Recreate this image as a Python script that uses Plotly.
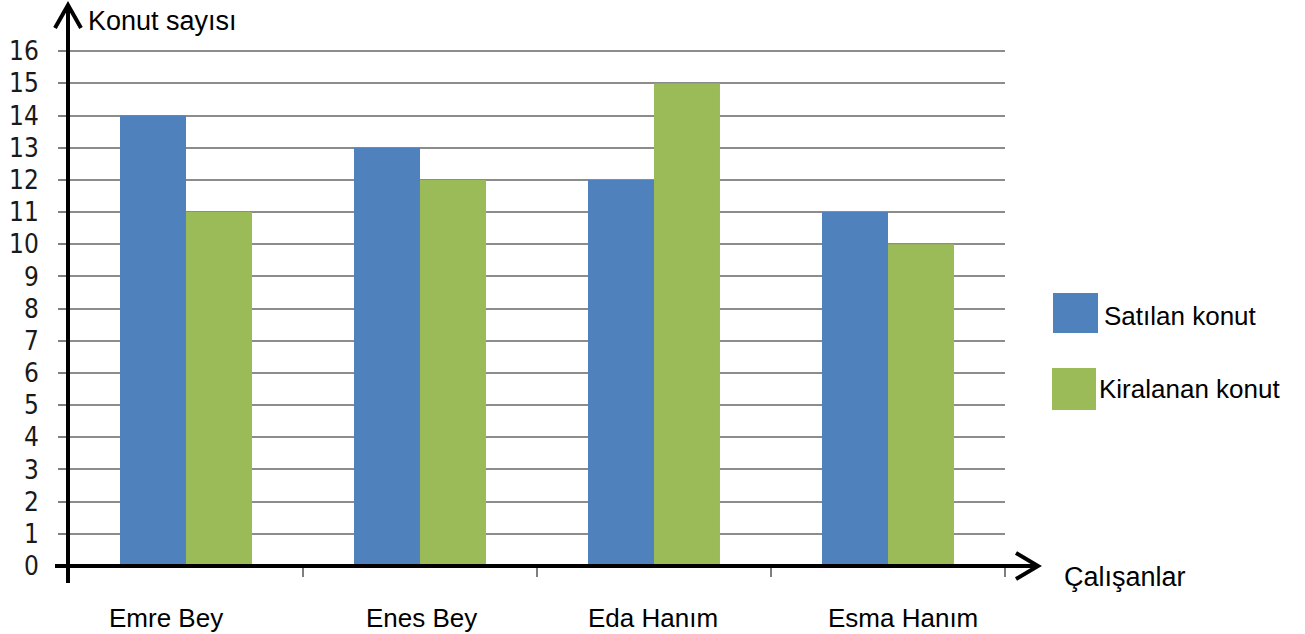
import plotly.graph_objects as go

categories = ["Emre Bey", "Enes Bey", "Eda Hanım", "Esma Hanım"]
satilan = [14, 13, 12, 11]
kiralanan = [11, 12, 15, 10]
series_names = ["Satılan konut", "Kiralanan konut"]
y_ticks = list(range(0, 17))
y_title = "Konut sayısı"
x_title = "Çalışanlar"

BLUE = "#4F81BD"
GREEN = "#9BBB59"
GRID = "#8C8C8C"
TXT_FONT = "Liberation Sans, Arial, sans-serif"

fig = go.Figure()
fig.add_trace(go.Bar(x=categories, y=satilan, name=series_names[0],
                     marker=dict(color=BLUE, line=dict(width=0)), showlegend=False))
fig.add_trace(go.Bar(x=categories, y=kiralanan, name=series_names[1],
                     marker=dict(color=GREEN, line=dict(width=0)), showlegend=False))

W, H = 1305, 634
L, R, T, B = 69, 300, 48, 68
pw = W - L - R
ph = H - T - B

def px_x(px):
    return (px - L) / pw

def px_y(py):
    return (H - B - py) / ph

fig.update_layout(
    width=W, height=H,
    margin=dict(l=L, r=R, t=T, b=B, autoexpand=False),
    paper_bgcolor="white", plot_bgcolor="white",
    barmode="group", bargap=0.436, bargroupgap=0,
    xaxis=dict(
        type="category", showticklabels=False, showgrid=False, zeroline=False,
        showline=False, ticks="outside", tickson="boundaries", ticklen=10,
        tickwidth=2, tickcolor="#7F7F7F", range=[-0.5, 3.5], automargin=False,
    ),
    yaxis=dict(
        range=[0, 16.1], tickvals=y_ticks, ticktext=[str(v) for v in y_ticks],
        showgrid=True, gridcolor=GRID, gridwidth=2, zeroline=False, showline=False,
        ticks="outside", ticklen=10, tickwidth=2, tickcolor="#7F7F7F",
        ticklabelstandoff=14, automargin=False,
        tickfont=dict(family="DejaVu Sans Condensed, DejaVu Sans", size=26, color="#1a1a1a"),
    ),
)

shapes = []
# y axis line with arrow
shapes.append(dict(type="line", xref="paper", yref="paper", x0=px_x(68), x1=px_x(68),
                   y0=px_y(583), y1=px_y(6), line=dict(color="black", width=4), layer="above"))
shapes.append(dict(type="path", xref="paper", yref="paper", xsizemode="pixel", ysizemode="pixel",
                   xanchor=px_x(68), yanchor=px_y(5), path="M -13,-23 L 0,0 L 13,-23",
                   line=dict(color="black", width=4), layer="above"))
# x axis line with arrow
shapes.append(dict(type="line", xref="paper", yref="paper", x0=px_x(55), x1=px_x(1037),
                   y0=0, y1=0, line=dict(color="black", width=4), layer="above"))
shapes.append(dict(type="path", xref="paper", yref="paper", xsizemode="pixel", ysizemode="pixel",
                   xanchor=px_x(1038), yanchor=0, path="M -22,13 L 0,0 L -22,-13",
                   line=dict(color="black", width=4), layer="above"))
# legend squares
leg_boxes = [(1053, 293, 1098, 333, BLUE), (1052, 368, 1096, 410, GREEN)]
for x0, y0, x1, y1, c in leg_boxes:
    shapes.append(dict(type="rect", xref="paper", yref="paper",
                       x0=px_x(x0), x1=px_x(x1), y0=px_y(y1), y1=px_y(y0),
                       fillcolor=c, line=dict(width=0)))
fig.update_layout(shapes=shapes)

annotations = []
annotations.append(dict(text=y_title, xref="paper", yref="paper", x=px_x(86), y=px_y(21),
                        xanchor="left", yanchor="middle", showarrow=False,
                        font=dict(family=TXT_FONT, size=27, color="black")))
annotations.append(dict(text=x_title, xref="paper", yref="paper", x=px_x(1062), y=px_y(577),
                        xanchor="left", yanchor="middle", showarrow=False,
                        font=dict(family=TXT_FONT, size=27, color="black")))
label_shift = [-20, 1, -1, 15]
for cat, sh in zip(categories, label_shift):
    annotations.append(dict(text=cat, x=cat, xref="x", yref="paper", y=px_y(618),
                            xanchor="center", yanchor="middle", xshift=sh, showarrow=False,
                            font=dict(family=TXT_FONT, size=26, color="black")))
leg_text = [(1102, 316), (1097, 389)]
for name, (tx, ty) in zip(series_names, leg_text):
    annotations.append(dict(text=name, xref="paper", yref="paper", x=px_x(tx), y=px_y(ty),
                            xanchor="left", yanchor="middle", showarrow=False,
                            font=dict(family=TXT_FONT, size=26, color="black")))
fig.update_layout(annotations=annotations)

fig.write_html(
    "out.html",
    config={"displayModeBar": False},
    post_script="document.body.style.margin='0';document.body.style.padding='0';"
                "document.body.style.overflow='hidden';",
)
